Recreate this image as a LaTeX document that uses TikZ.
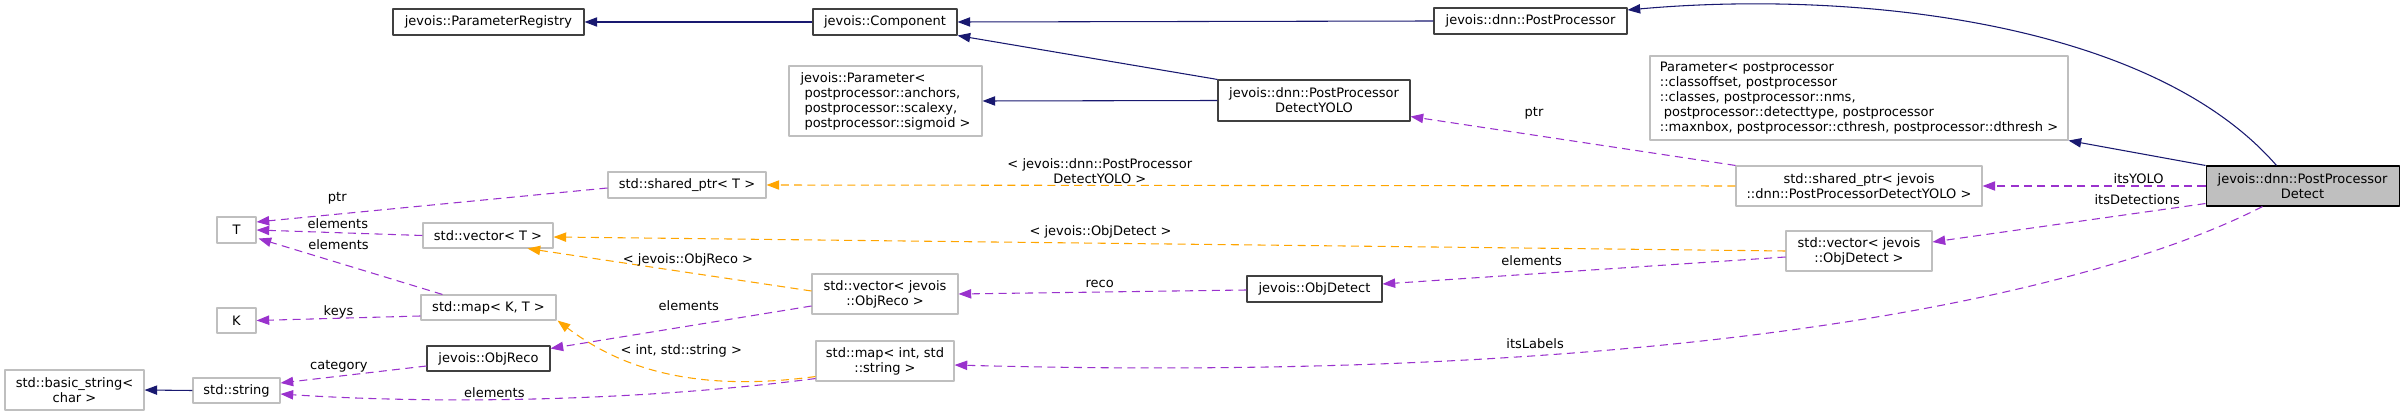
\documentclass[tikz,border=0pt]{standalone}
\usepackage{fontspec}
\setmainfont{DejaVu Sans}
\usetikzlibrary{arrows.meta,calc}

\definecolor{inhblue}{HTML}{191970}
\definecolor{usepurple}{HTML}{9A32CD}
\definecolor{tplorange}{HTML}{FFA500}
\definecolor{undocgray}{HTML}{BFBFBF}
\definecolor{docgray}{HTML}{404040}

\begin{document}
\begin{tikzpicture}[
    x=0.75pt, y=-0.75pt,
    line join=round,
    font=\fontsize{9.75}{11.25}\selectfont,
    cls/.style={draw=docgray, line width=0.8pt, inner sep=0pt, align=center},
    ext/.style={draw=undocgray, line width=0.8pt, inner sep=0pt, align=center},
    focus/.style={draw=black, fill=undocgray, line width=0.8pt, inner sep=0pt, align=center},
    sz/.style 2 args={minimum width=#1*0.75pt, minimum height=#2*0.75pt},
    inh/.style={draw=inhblue, line width=0.8pt, -{Triangle[length=9.5pt,width=7pt]}},
    mem/.style={draw=usepurple, line width=0.8pt, dash pattern=on 6pt off 4pt,
        -{Triangle[length=9.5pt,width=7pt]}},
    tpl/.style={draw=tplorange, line width=0.8pt, dash pattern=on 6pt off 4pt,
        -{Triangle[length=9.5pt,width=7pt]}},
    lbl/.style={inner sep=0pt, align=center}
]

% Frame
\path[use as bounding box] (0,0) rectangle (2404,416);

% Classes
\node[cls, sz={191}{26}] (paramreg) at (488.5,22) {jevois::ParameterRegistry};
\node[cls, sz={144}{26}] (component) at (885,22) {jevois::Component};
\node[cls, sz={193}{26}] (postproc) at (1530.5,21) {jevois::dnn::PostProcessor};
\node[ext, sz={193}{70}, align=left] (paramanchors) at (885.5,101)
    {jevois::Parameter<\\\hspace*{3pt}postprocessor::anchors,\\\hspace*{3pt}postprocessor::scalexy,\\\hspace*{3pt}postprocessor::sigmoid >};
\node[cls, sz={192}{41}] (yolo) at (1314,100.5) {jevois::dnn::PostProcessor\\DetectYOLO};
\node[ext, sz={418}{84}, align=left] (paramdetect) at (1859,98)
    {Parameter< postprocessor\\::classoffset, postprocessor\\::classes, postprocessor::nms,\\\hspace*{3pt}postprocessor::detecttype, postprocessor\\::maxnbox, postprocessor::cthresh, postprocessor::dthresh >};
\node[ext, sz={246}{40}] (sharedyolo) at (1859,186) {std::shared\_ptr< jevois\\::dnn::PostProcessorDetectYOLO >};
\node[focus, sz={193}{40}] (ppd) at (2302.5,186) {jevois::dnn::PostProcessor\\Detect};
\node[ext, sz={158}{26}] (sharedT) at (687,185) {std::shared\_ptr< T >};
\node[ext, sz={146}{40}] (vecdetect) at (1859,251) {std::vector< jevois\\::ObjDetect >};
\node[ext, sz={130}{25}] (vecT) at (488,235.5) {std::vector< T >};
\node[ext, sz={39}{26}] (T) at (236.5,230) {T};
\node[ext, sz={39}{25}] (K) at (236.5,320.5) {K};
\node[ext, sz={135}{25}] (mapKT) at (488.5,307.5) {std::map< K, T >};
\node[cls, sz={123}{25}] (objreco) at (488.5,358.5) {jevois::ObjReco};
\node[ext, sz={146}{40}] (vecreco) at (885,294) {std::vector< jevois\\::ObjReco >};
\node[cls, sz={135}{26}] (objdetect) at (1314.5,289) {jevois::ObjDetect};
\node[ext, sz={138}{40}] (mapint) at (885,361) {std::map< int, std\\::string >};
\node[ext, sz={87}{25}] (string) at (236.5,390.5) {std::string};
\node[ext, sz={139}{40}] (basicstring) at (74.5,390) {std::basic\_string<\\char >};

% Inheritance
\draw[inh] (component.west) -- (paramreg.east);
\draw[inh] (postproc.west) -- (component.east);
\draw[inh] ($(ppd.north west)+(71,0)$) .. controls (2150,20) and (1850,-10) .. ($(postproc.east)+(0,-11)$);
\draw[inh] (ppd.north west) -- (paramdetect.south east);
\draw[inh] (yolo.north west) -- (component.south east);
\draw[inh] (yolo.west) -- (paramanchors.east);
\draw[inh] (string.west) -- (basicstring.east);

% Members
\draw[mem] (ppd.west) -- node[lbl, pos=0.3, above=1pt] {itsYOLO} (sharedyolo.east);
\draw[mem] ($(ppd.south west)+(0,-3)$) -- node[lbl, pos=0.25, above=6pt] {itsDetections} ($(vecdetect.east)+(0,-9)$);
\draw[mem] ($(ppd.south west)+(57,0)$) .. controls (2100,290) and (1700,385) .. node[lbl, pos=0.7, above=4.5pt] {itsLabels} ($(mapint.east)+(0,4)$);
\draw[mem] (sharedyolo.north west) -- node[lbl, pos=0.62, above=11.5pt] {ptr} ($(yolo.south east)+(0,-5)$);
\draw[mem] ($(sharedT.west)+(0,3)$) -- node[lbl, pos=0.77, above=7pt] {ptr} ($(T.east)+(0,-8)$);
\draw[mem] (vecT.west) -- node[lbl, pos=0.51, above=2.4pt] {elements} (T.east);
\draw[mem] ($(mapKT.north)+(-46,0)$) -- node[lbl, pos=0.565, above=9.4pt] {elements} ($(T.south east)+(2,-5)$);
\draw[mem] ($(mapKT.west)+(0,8.5)$) -- node[lbl, pos=0.5, above=0pt] {keys} (K.east);
\draw[mem] ($(vecdetect.west)+(0,6)$) -- node[lbl, pos=0.63, above=5.6pt] {elements} ($(objdetect.east)+(0,-5)$);
\draw[mem] ($(objdetect.west)+(0,1)$) -- node[lbl, pos=0.51, above=2.6pt] {reco} (vecreco.east);
\draw[mem] ($(vecreco.west)+(0,12)$) -- node[lbl, pos=0.47, above=11pt] {elements} ($(objreco.east)+(0,-10)$);
\draw[mem] ($(mapint.south west)+(0,-3)$) .. controls (650,400) and (450,405) .. node[lbl, pos=0.6, above=0.75pt] {elements} ($(string.east)+(0,3.5)$);
\draw[mem] ($(objreco.west)+(0,7.5)$) -- node[lbl, pos=0.6, above=2.6pt] {category} ($(string.east)+(0,-7.5)$);

% Template instances
\draw[tpl] (sharedyolo.west) -- node[lbl, pos=0.656, above=1pt] {< jevois::dnn::PostProcessor\\DetectYOLO >} (sharedT.east);
\draw[tpl] (vecdetect.west) -- node[lbl, pos=0.556, above=3.5pt] {< jevois::ObjDetect >} ($(vecT.east)+(0,1.5)$);
\draw[tpl] ($(vecreco.west)+(0,-3)$) -- node[lbl, pos=0.435, above=4pt] {< jevois::ObjReco >} ($(vecT.south east)+(-26,0)$);
\draw[tpl] ($(mapint.south west)+(0,-5)$) .. controls (680,395) and (610,360) .. node[lbl, pos=0.4, above=14pt] {< int, std::string >} ($(mapKT.south east)+(1,0)$);

\end{tikzpicture}
\end{document}
